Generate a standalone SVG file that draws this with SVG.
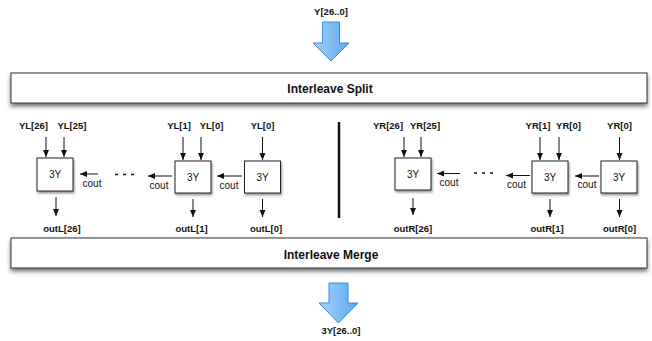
<svg xmlns="http://www.w3.org/2000/svg" width="652" height="341" viewBox="0 0 652 341">
<defs>
<style>
.bar{fill:#fff;stroke:#333;stroke-width:1}
.cell{fill:#fff;stroke:#222;stroke-width:1}
.big{font-family:"Liberation Sans",Arial,sans-serif;font-weight:bold;font-size:12px;fill:#111;text-anchor:middle}
.lbl{font-family:"Liberation Sans",Arial,sans-serif;font-weight:bold;font-size:9.5px;fill:#111;text-anchor:middle}
.reg{font-family:"Liberation Sans",Arial,sans-serif;font-size:10px;fill:#111;text-anchor:middle}
.wire{stroke:#111;stroke-width:1;fill:none;marker-end:url(#ah)}
.dots{stroke:#111;stroke-width:1.5;stroke-dasharray:3 5;fill:none}
.blue{fill:url(#bg);stroke:#3f8ad6;stroke-width:1;stroke-linejoin:round}
</style>
<marker id="ah" markerUnits="userSpaceOnUse" markerWidth="8" markerHeight="7" refX="7" refY="3" orient="auto">
<path d="M0,0 L7,3 L0,6 z" fill="#111"/>
</marker>
<linearGradient id="bg" x1="0" y1="0" x2="1" y2="0">
<stop offset="0" stop-color="#a6d4fb"/>
<stop offset="1" stop-color="#5aa6ee"/>
</linearGradient>
<filter id="sh" x="-10%" y="-30%" width="120%" height="170%">
<feDropShadow dx="0" dy="3" stdDeviation="2" flood-color="#000" flood-opacity="0.55"/>
</filter>
<filter id="sh2" x="-30%" y="-30%" width="160%" height="160%">
<feDropShadow dx="1" dy="2" stdDeviation="1.2" flood-color="#000" flood-opacity="0.4"/>
</filter>
</defs>
<rect width="652" height="341" fill="#fff"/>

<g id="input">
<text class="lbl" x="331" y="15">Y[26..0]</text>
<polygon class="blue" points="322.5,22 339.5,22 339.5,43 349,43 331,61 313,43 322.5,43"/>
</g>

<g id="split">
<rect class="bar" x="11" y="73" width="636" height="30" filter="url(#sh)"/>
<text class="big" x="330" y="92.5">Interleave Split</text>
</g>

<g id="L1"><rect class="cell" x="37" y="158" width="36" height="33" filter="url(#sh2)"/><text class="reg" x="55" y="178">3Y</text></g>
<g id="L2"><rect class="cell" x="175" y="161" width="36" height="32" filter="url(#sh2)"/><text class="reg" x="193" y="181">3Y</text></g>
<g id="L3"><rect class="cell" x="244.5" y="161" width="36" height="32" filter="url(#sh2)"/><text class="reg" x="262.5" y="181">3Y</text></g>
<g id="R1"><rect class="cell" x="395" y="158" width="36" height="32" filter="url(#sh2)"/><text class="reg" x="413" y="178">3Y</text></g>
<g id="R2"><rect class="cell" x="532" y="161" width="36" height="32" filter="url(#sh2)"/><text class="reg" x="550" y="181">3Y</text></g>
<g id="R3"><rect class="cell" x="601" y="161" width="36" height="32" filter="url(#sh2)"/><text class="reg" x="619" y="181">3Y</text></g>

<g id="labels">
<text class="lbl" x="33.5" y="129">YL[26]</text>
<text class="lbl" x="72" y="129">YL[25]</text>
<text class="lbl" x="179" y="129">YL[1]</text>
<text class="lbl" x="211.5" y="129">YL[0]</text>
<text class="lbl" x="262.5" y="129">YL[0]</text>
<text class="lbl" x="388" y="129">YR[26]</text>
<text class="lbl" x="425" y="129">YR[25]</text>
<text class="lbl" x="538" y="129">YR[1]</text>
<text class="lbl" x="568.5" y="129">YR[0]</text>
<text class="lbl" x="619.5" y="129">YR[0]</text>
<text class="lbl" x="62" y="231.5">outL[26]</text>
<text class="lbl" x="191.5" y="231.5">outL[1]</text>
<text class="lbl" x="266" y="231.5">outL[0]</text>
<text class="lbl" x="413" y="231.5">outR[26]</text>
<text class="lbl" x="547" y="231.5">outR[1]</text>
<text class="lbl" x="619.5" y="231.5">outR[0]</text>
<text class="reg" x="92" y="187">cout</text>
<text class="reg" x="159" y="189">cout</text>
<text class="reg" x="229" y="189">cout</text>
<text class="reg" x="449" y="186">cout</text>
<text class="reg" x="516.5" y="188">cout</text>
<text class="reg" x="587" y="188">cout</text>
</g>

<g id="connectors">
<line class="wire" x1="46" y1="137" x2="46" y2="157"/>
<line class="wire" x1="64" y1="137" x2="64" y2="157"/>
<line class="wire" x1="183" y1="137" x2="183" y2="160"/>
<line class="wire" x1="201" y1="137" x2="201" y2="160"/>
<line class="wire" x1="262.5" y1="137" x2="262.5" y2="160"/>
<line class="wire" x1="404" y1="137" x2="404" y2="157"/>
<line class="wire" x1="421" y1="137" x2="421" y2="157"/>
<line class="wire" x1="540" y1="137" x2="540" y2="160"/>
<line class="wire" x1="559" y1="137" x2="559" y2="160"/>
<line class="wire" x1="619.5" y1="137" x2="619.5" y2="160"/>

<line class="wire" x1="56" y1="197" x2="56" y2="216"/>
<line class="wire" x1="193" y1="199" x2="193" y2="217"/>
<line class="wire" x1="262.5" y1="199" x2="262.5" y2="217"/>
<line class="wire" x1="413" y1="198" x2="413" y2="215"/>
<line class="wire" x1="550" y1="199" x2="550" y2="217"/>
<line class="wire" x1="619.5" y1="199" x2="619.5" y2="217"/>

<line class="wire" x1="98" y1="174" x2="80" y2="174"/>
<line class="wire" x1="172" y1="176" x2="148" y2="176"/>
<line class="wire" x1="242" y1="176" x2="217" y2="176"/>
<line class="wire" x1="460" y1="173.5" x2="437" y2="173.5"/>
<line class="wire" x1="530" y1="175.5" x2="506" y2="175.5"/>
<line class="wire" x1="599" y1="176" x2="575" y2="176"/>

<line class="dots" x1="115" y1="174.5" x2="136" y2="174.5"/>
<line class="dots" x1="474" y1="173" x2="495" y2="173"/>

<line x1="339" y1="122" x2="339" y2="218" stroke="#111" stroke-width="2.5"/>
</g>

<g id="merge">
<rect class="bar" x="11" y="238" width="636" height="30" filter="url(#sh)"/>
<text class="big" x="331" y="259">Interleave Merge</text>
</g>

<g id="output">
<polygon class="blue" points="329,283 348,283 348,303 358,303 338.5,323 319,303 329,303"/>
<text class="lbl" x="341" y="334">3Y[26..0]</text>
</g>
</svg>
